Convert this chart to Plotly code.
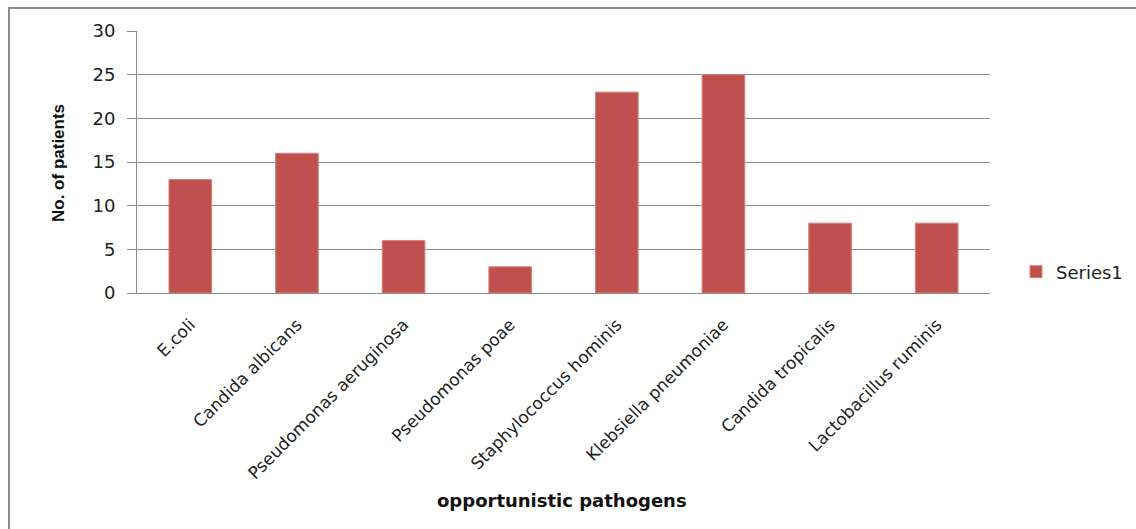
import plotly.graph_objects as go

categories = ["E.coli", "Candida albicans", "Pseudomonas aeruginosa", "Pseudomonas poae",
              "Staphylococcus hominis", "Klebsiella pneumoniae", "Candida tropicalis",
              "Lactobacillus ruminis"]
patients = [13, 16, 6, 3, 23, 25, 8, 8]
series_name = "Series1"
y_ticks = [0, 5, 10, 15, 20, 25, 30]

W, H = 1136, 529
L, R, T, B = 137, 990, 31, 293
pw, ph = R - L, B - T

def px(x):
    return (x - L) / pw

def py(y):
    return (B - y) / ph

fig = go.Figure()
fig.add_trace(go.Bar(
    x=categories, y=patients, name=series_name,
    marker=dict(color="#C0504D", line=dict(color="#D9807E", width=1)),
    showlegend=True,
))

font_fam = "DejaVu Sans"
fig.update_layout(
    width=W, height=H,
    margin=dict(l=L, r=W - R, t=T, b=H - B, autoexpand=False),
    paper_bgcolor="white", plot_bgcolor="white",
    bargap=0.6,
    font=dict(family=font_fam, size=15, color="#222222"),
    showlegend=True,
    legend=dict(x=px(1016), y=py(272), xanchor="left", yanchor="middle",
                font=dict(size=18, family=font_fam, color="#222222"),
                bgcolor="rgba(0,0,0,0)", itemwidth=30),
    xaxis=dict(
        tickangle=-45, showgrid=False, showline=True, linecolor="#8C8C8C", linewidth=1,
        ticks="outside", ticklen=0, tickcolor="white", ticklabelstandoff=14,
        tickfont=dict(size=17, family=font_fam, color="#222222"),
    ),
    yaxis=dict(
        range=[0, 30], tickvals=y_ticks, showgrid=True, gridcolor="#8C8C8C", gridwidth=1,
        showline=True, linecolor="#8C8C8C", linewidth=1, ticks="outside", ticklen=9,
        tickcolor="#8C8C8C", zeroline=False, ticklabelstandoff=8,
        tickfont=dict(size=18, family=font_fam, color="#222222"),
    ),
    annotations=[
        dict(text="<b>No. of patients</b>", x=px(58), y=py(163), xref="paper", yref="paper",
             textangle=-90, showarrow=False, xanchor="center", yanchor="middle",
             font=dict(size=17, family="Liberation Sans", color="#111111")),
        dict(text="<b>opportunistic pathogens</b>", x=px(562), y=py(500), xref="paper", yref="paper",
             showarrow=False, xanchor="center", yanchor="middle",
             font=dict(size=18, family=font_fam, color="#111111")),
    ],
    shapes=[
        dict(type="rect", xref="paper", yref="paper",
             x0=px(9), x1=px(1150), y0=py(545), y1=py(8),
             line=dict(color="#8C8C8C", width=2), fillcolor="rgba(0,0,0,0)", layer="below"),
    ],
)

fig.write_html("out.html")
